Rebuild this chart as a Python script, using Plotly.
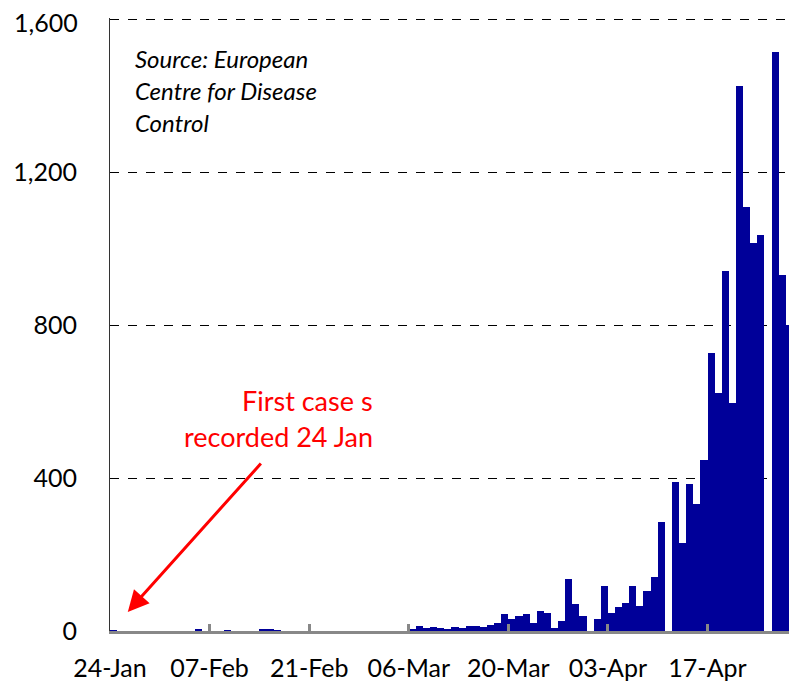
import plotly.graph_objects as go

# Daily new cases, day 0 = 24-Jan through day 95 = 28-Apr
day_index = list(range(96))
cases = [
    2, 0, 0, 0, 0, 0, 0, 0, 0, 0, 0, 0,      # 24-Jan .. 04-Feb
    3, 0, 0, 0, 2, 0, 0, 0, 0,               # 05-Feb .. 13-Feb
    4, 4, 1, 0, 0, 0, 0, 0, 0, 0, 0, 0, 0, 0, 0, 0, 0, 0, 0, 0, 0,  # 14-Feb .. 05-Mar
    4, 13, 8, 10, 9, 5, 10, 9, 12, 13, 11, 17, 21, 45,  # 06-Mar .. 19-Mar
    31, 39, 45, 21, 52, 48, 9, 25, 137, 70, 39, 0, 32, 117,  # 20-Mar .. 02-Apr
    47, 64, 74, 117, 65, 104, 140, 285, 0, 389, 231, 385, 332, 446,  # 03-Apr .. 16-Apr
    727, 622, 941, 595, 1425, 1109, 1015, 1035, 0, 1515, 930, 800,  # 17-Apr .. 28-Apr
]
tick_days = [0, 14, 28, 42, 56, 70, 84]
tick_labels = ["24-Jan", "07-Feb", "21-Feb", "06-Mar", "20-Mar", "03-Apr", "17-Apr"]
y_ticks = [0, 400, 800, 1200, 1600]
y_tick_labels = ["0", "400", "800", "1,200", "1,600"]
y_max = 1603

source_lines = ["Source: European", "Centre for Disease", "Control"]
note_lines = ["First case s", "recorded 24 Jan"]

FONT = "Lato"

# page body has an 8px default margin, so the figure is drawn offset by (8, 8)
OFF = 8
PL, PR, PB = 110, 795, 631           # plot area in page pixels
px_per_unit = (631 - 19) / 1600
PT = round(19 - (y_max - 1600) * px_per_unit)
W, H = 797 - OFF, 683 - OFF

fig = go.Figure()
fig.add_trace(go.Bar(
    x=[d + 0.5 for d in day_index],
    y=cases,
    width=1,
    marker=dict(color="#000099", line=dict(width=0)),
    showlegend=False,
))

# the top label sits too close to the page edge for the axis to keep it,
# so it is drawn as an annotation at the same spot
axis_text = y_tick_labels[:-1] + [""]

fig.update_layout(
    width=W, height=H,
    margin=dict(l=PL - OFF, r=W - (PR - OFF), t=PT - OFF, b=H - (PB - OFF), autoexpand=False),
    paper_bgcolor="white", plot_bgcolor="white",
    font=dict(family=FONT, size=25, color="black"),
    bargap=0,
    xaxis=dict(
        range=[0, 96.3],
        automargin=False,
        tickmode="array", tickvals=tick_days, ticktext=tick_labels,
        ticks="inside", ticklen=7, tickwidth=3, tickcolor="#888888",
        showline=True, linecolor="#888888", linewidth=3,
        showgrid=False, zeroline=False,
        ticklabelstandoff=13,
        tickfont=dict(family=FONT, size=25, color="black"),
    ),
    yaxis=dict(
        range=[0, y_max],
        automargin=False,
        tickmode="array", tickvals=y_ticks, ticktext=axis_text,
        ticks="", showline=True, linecolor="#333333", linewidth=1,
        showgrid=True, gridcolor="black", gridwidth=1, griddash="dash",
        zeroline=False,
        ticklabelstandoff=27,
        tickfont=dict(family=FONT, size=25, color="black"),
    ),
)

pw, ph = PR - PL, PB - PT

fig.add_annotation(
    text=y_tick_labels[-1], xref="paper", yref="y",
    x=(80 - PL) / pw, y=y_ticks[-1], yshift=-3,
    xanchor="right", yanchor="middle", showarrow=False,
    font=dict(family=FONT, size=25, color="black"),
)

# Source text (italic), one annotation per line
for i, line in enumerate(source_lines):
    fig.add_annotation(
        text=f"<i>{line}</i>", xref="paper", yref="paper",
        x=(133 - PL) / pw, y=(PB - (58 + 32 * i)) / ph,
        xanchor="left", yanchor="middle", showarrow=False,
        font=dict(family=FONT, size=24, color="black"),
    )

# Red note
for i, line in enumerate(note_lines):
    fig.add_annotation(
        text=line, xref="paper", yref="paper",
        x=(375 - PL) / pw, y=(PB - (400 + 36 * i)) / ph,
        xanchor="right", yanchor="middle", showarrow=False,
        font=dict(family=FONT, size=27, color="red"),
    )

# Arrow pointing to first case
fig.add_annotation(
    x=2.5, y=50, ax=21.4, ay=442,
    xref="x", yref="y", axref="x", ayref="y",
    text="", showarrow=True, arrowhead=2, arrowsize=1.4,
    arrowwidth=3, arrowcolor="red",
)

fig.write_html("out.html")
